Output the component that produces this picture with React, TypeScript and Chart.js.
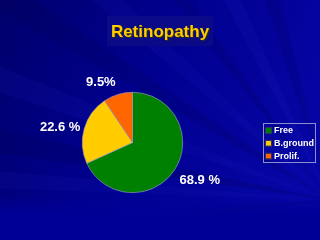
import React, { useEffect, useRef } from "react";
import { Chart, registerables } from "chart.js";

Chart.register(...registerables);

const categories = ["Free", "B.ground", "Prolif."];
const values = [68.9, 22.6, 9.5];
const valueLabels = ["68.9 %", "22.6 %", "9.5%"];
const colors = ["#008000", "#ffcc00", "#ff6600"];
const titleText = "Retinopathy";

const bgPlugin = {
  id: "bgPlugin",
  beforeDraw(chart: any) {
    const { ctx, width, height } = chart;
    ctx.save();
    const g = ctx.createLinearGradient(0, 0, width, height * 0.6);
    g.addColorStop(0, "#00006c");
    g.addColorStop(0.45, "#00008e");
    g.addColorStop(1, "#0606a6");
    ctx.fillStyle = g;
    ctx.fillRect(0, 0, width, height);
    // faint rays
    const ox = 330, oy = 200;
    const rays = [
      [-172, -168, "rgba(0,0,70,0.18)"],
      [-162, -158, "rgba(30,30,190,0.14)"],
      [-150, -146, "rgba(0,0,70,0.15)"],
      [-140, -136, "rgba(30,30,190,0.14)"],
      [-128, -125, "rgba(0,0,70,0.15)"],
      [-118, -114, "rgba(30,30,190,0.16)"],
      [-108, -104, "rgba(0,0,70,0.14)"],
      [-178, -175, "rgba(30,30,190,0.12)"],
      [172, 176, "rgba(0,0,60,0.15)"],
      [10, 13, "rgba(60,60,220,0.2)"],
    ];
    rays.forEach(([a1, a2, c]: any) => {
      const r = 600;
      ctx.beginPath();
      ctx.moveTo(ox, oy);
      ctx.lineTo(ox + r * Math.cos((a1 * Math.PI) / 180), oy + r * Math.sin((a1 * Math.PI) / 180));
      ctx.lineTo(ox + r * Math.cos((a2 * Math.PI) / 180), oy + r * Math.sin((a2 * Math.PI) / 180));
      ctx.closePath();
      ctx.fillStyle = c;
      ctx.fill();
    });
    const b = ctx.createLinearGradient(0, 195, 0, 215);
    b.addColorStop(0, "rgba(0,0,150,0)");
    b.addColorStop(1, "rgba(0,0,150,1)");
    ctx.fillStyle = b;
    ctx.fillRect(0, 195, width, 20);
    ctx.fillStyle = "#000096";
    ctx.fillRect(0, 215, width, 25);
    // title box
    ctx.fillStyle = "#0a0a86";
    ctx.fillRect(107, 16, 106, 30);
    ctx.restore();
  },
};

const overlayPlugin = {
  id: "overlayPlugin",
  afterDraw(chart: any) {
    const { ctx } = chart;
    ctx.save();
    // title
    ctx.font = "bold 17px 'Liberation Sans', Arial, sans-serif";
    ctx.textAlign = "center";
    ctx.textBaseline = "alphabetic";
    ctx.fillStyle = "#303000";
    ctx.fillText(titleText, 161, 38);
    ctx.fillStyle = "#ffcc00";
    ctx.fillText(titleText, 160, 37);

    // value labels
    const meta = chart.getDatasetMeta(0);
    const offs = [
      [-3.9, 1.53],
      [-3.4, 1.476],
      [-10.6, 1.364],
    ];
    ctx.font = "bold 13px 'Liberation Sans', Arial, sans-serif";
    ctx.fillStyle = "#ffffff";
    ctx.textBaseline = "middle";
    meta.data.forEach((arc: any, i: number) => {
      const p = arc.getProps(["x", "y", "startAngle", "endAngle", "outerRadius"], true);
      const mid = (p.startAngle + p.endAngle) / 2 + (offs[i][0] * Math.PI) / 180;
      const d = p.outerRadius * offs[i][1];
      ctx.fillText(valueLabels[i], p.x + d * Math.cos(mid), p.y + d * Math.sin(mid) + 0.5);
    });

    // legend
    const lx = 263, ly = 123, lw = 53, lh = 39;
    ctx.strokeStyle = "#8c8cd0";
    ctx.lineWidth = 1;
    ctx.strokeRect(lx + 0.5, ly + 0.5, lw - 1, lh);
    ctx.font = "bold 9px 'Liberation Sans', Arial, sans-serif";
    ctx.textAlign = "left";
    categories.forEach((c, i) => {
      const y = ly + 8 + i * 12.8;
      ctx.fillStyle = colors[i];
      ctx.fillRect(lx + 3, y - 3, 5, 5);
      ctx.strokeStyle = "#303060";
      ctx.strokeRect(lx + 2.5, y - 3.5, 6, 6);
      ctx.fillStyle = "#ffffff";
      ctx.fillText(c, lx + 11, y);
    });
    ctx.restore();
  },
};

export default function App() {
  const ref = useRef<HTMLCanvasElement>(null);
  useEffect(() => {
    document.body.style.margin = "0";
    const chart = new Chart(ref.current!, {
      type: "pie",
      data: {
        labels: categories,
        datasets: [
          {
            data: values,
            backgroundColor: colors,
            borderColor: "#a0a0d0",
            borderWidth: 0.6,
          },
        ],
      },
      options: {
        responsive: false,
        animation: false,
        layout: { padding: { left: 82, right: 137, top: 92, bottom: 47 } },
        plugins: {
          legend: { display: false },
          title: { display: false },
          tooltip: { enabled: false },
        },
      },
      plugins: [bgPlugin, overlayPlugin],
    });
    return () => chart.destroy();
  }, []);
  return (
    <div style={{ position: "fixed", left: 0, top: 0, width: 320, height: 240 }}>
      <canvas ref={ref} width={320} height={240} />
    </div>
  );
}
